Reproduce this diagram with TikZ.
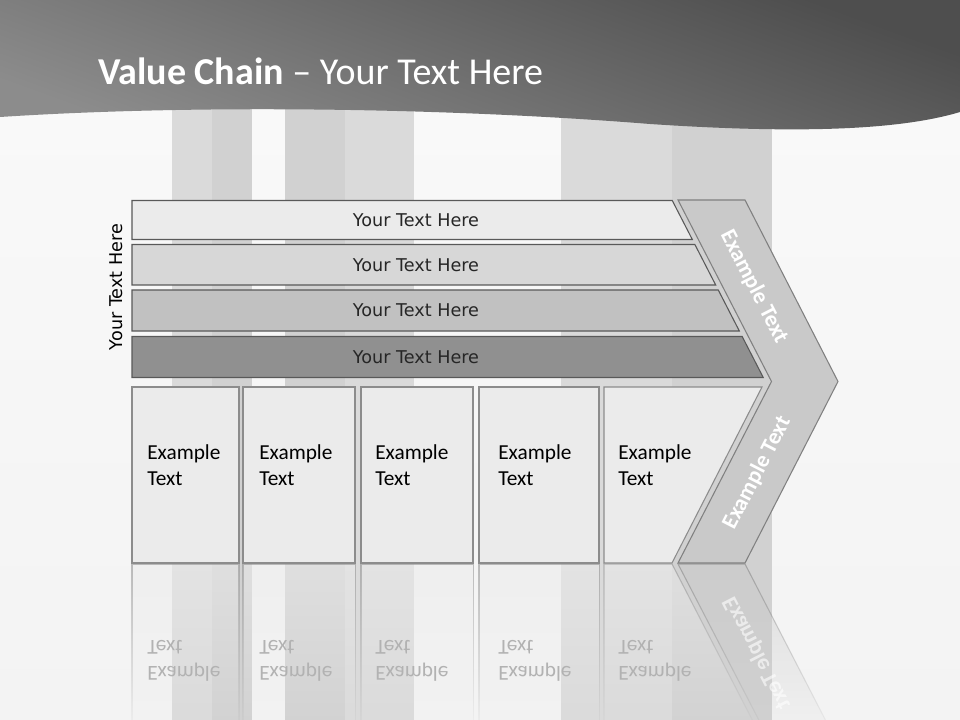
\documentclass[tikz,border=0pt]{standalone}
\usepackage{fontspec}
\setmainfont{Carlito}
\newfontfamily\verdanafont{DejaVu Sans}
\usetikzlibrary{fadings}

\definecolor{bgtop}{HTML}{FAFAFA}
\definecolor{bgbottom}{HTML}{F3F3F3}
\definecolor{pillarA}{HTML}{DADADA}
\definecolor{pillarB}{HTML}{D1D1D1}
\definecolor{headdark}{HTML}{4E4E4E}
\definecolor{headlight}{HTML}{8C8C8C}
\definecolor{barA}{HTML}{EBEBEB}
\definecolor{barB}{HTML}{D7D7D7}
\definecolor{barC}{HTML}{C1C1C1}
\definecolor{barD}{HTML}{909090}
\definecolor{chevgray}{HTML}{C9C9C9}
\definecolor{boxgray}{HTML}{EBEBEB}

\tikzfading[name=reflfade, top color=transparent!45, bottom color=transparent!100]

\tikzset{
  titletext/.style={font=\fontsize{28.5}{34}\selectfont, text=white, inner sep=0pt},
  barline/.style={draw=black!65, line width=0.8pt},
  bartext/.style={font=\verdanafont\fontsize{13.2}{16}\selectfont, text=black!85},
  chevline/.style={draw=black!50, line width=0.8pt, fill=chevgray},
  arrowtext/.style={font=\bfseries\fontsize{17}{20}\selectfont, text=white},
  boxline/.style={draw=black!45, line width=0.8pt, fill=boxgray},
  boxtext/.style={font=\fontsize{16}{19.5}\selectfont, align=left, anchor=west, inner sep=0pt},
  refltext/.style={text=black!30},
}

% left edge / right edge / text start of the square boxes
\newcommand\boxlist{132/239/147, 243/355/259, 361/473/375, 479/599/498}

\begin{document}
\begin{tikzpicture}[x=0.75pt,y=-0.75pt]
  \useasboundingbox (0,0) rectangle (960,720);

  % background and pillars
  \shade[top color=bgtop, bottom color=bgbottom] (0,0) rectangle (960,720);
  \foreach \xa/\xb/\col in {172/212/pillarA, 212/252/pillarB, 285/345/pillarB,
                           345/414/pillarA, 561/672/pillarA, 672/772/pillarB}
    \fill[\col] (\xa,100) rectangle (\xb,720);

  % header
  \shade[top color=headdark, bottom color=headlight, shading angle=-20]
    (0,0) -- (960,0) -- (960,112)
    .. controls (900,130) and (800,134) .. (650,124)
    .. controls (450,108) and (200,104) .. (0,117) -- cycle;
  \node[titletext, anchor=base west] (title) at (98,85)
    {\textbf{Value Chain} – Your Text Here};

  % bars
  \foreach \ya/\yb/\col [count=\i] in {200.5/239.5/barA, 244.5/285/barB,
                                      290/331/barC, 336.5/377.5/barD} {
    \pgfmathsetmacro\xa{672+0.514*(\ya-200)}
    \pgfmathsetmacro\xb{672+0.514*(\yb-200)}
    \draw[barline, fill=\col] (132,\ya) -- (\xa,\ya) -- (\xb,\yb) -- (132,\yb) -- cycle;
    \node[bartext] (bar\i) at (416,{(\ya+\yb)/2}) {Your Text Here};
  }
  \node[bartext, text=black, rotate=90] (side) at (116,287) {Your Text Here};

  % chevron
  \draw[chevline] (678,200) -- (745,200) -- (838,381.5) -- (745,563)
    -- (678,563) -- (771.5,381.5) -- cycle;
  \node[arrowtext, rotate=-62.8] (armtop) at (754,287) {Example Text};
  \node[arrowtext, rotate=62.8] (armbot) at (757,473) {Example Text};

  % boxes
  \foreach \xa/\xb/\xt [count=\i] in \boxlist {
    \draw[boxline] (\xa,387) rectangle (\xb,563);
    \node[boxtext] (box\i) at (\xt,465) {Example\\Text};
  }
  \draw[boxline] (604,387) -- (762,387) -- (672,563) -- (604,563) -- cycle;
  \node[boxtext] (box5) at (618,465) {Example\\Text};

  % reflection
  \foreach \xa/\xb/\xt [count=\i] in \boxlist {
    \draw[boxline, path fading=reflfade] (\xa,564) rectangle (\xb,739);
    \node[boxtext, refltext, yscale=-1] (mirror\i) at (\xt,661) {Example\\Text};
  }
  \draw[boxline, path fading=reflfade] (604,564) -- (672,564) -- (762,739) -- (604,739) -- cycle;
  \node[boxtext, refltext, yscale=-1] (mirror5) at (618,661) {Example\\Text};
  \draw[chevline, path fading=reflfade] (678,564) -- (745,564) -- (838,744.5)
    -- (771.5,744.5) -- cycle;
  \node[arrowtext, text opacity=0.6, rotate=-62.8, yscale=-1] (mirrorarm) at (757,653) {Example Text};
\end{tikzpicture}
\end{document}
